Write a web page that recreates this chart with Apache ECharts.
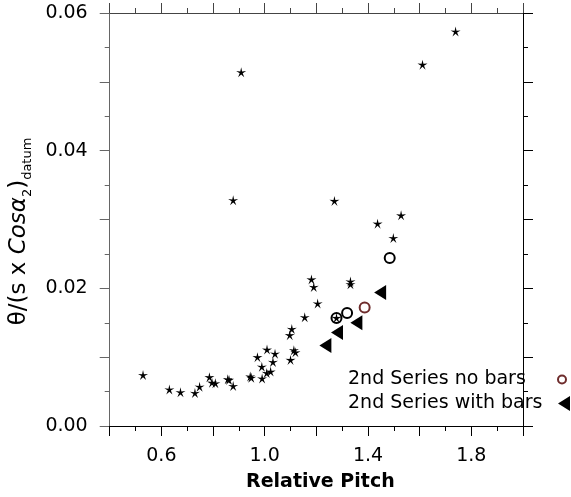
<!DOCTYPE html>
<html>
<head>
<meta charset="utf-8">
<script src="https://cdn.jsdelivr.net/npm/echarts@6/dist/echarts.min.js"></script>
<style>html,body{margin:0;padding:0;background:#fff;}#c{width:571px;height:497px;}</style>
</head>
<body>
<div id="c"></div>
<script>
// ---- data ----
const starX = [0.529,0.631,0.674,0.730,0.748,0.786,0.796,0.809,0.857,0.862,0.878,0.944,0.948,0.972,0.989,0.990,1.009,1.008,1.023,1.032,1.040,1.097,1.105,1.100,1.113,1.119,1.155,1.181,1.190,1.205,1.278,1.332,1.332,0.878,0.909,1.270,1.437,1.528,1.498,1.611,1.739];
const starY = [0.0074,0.0053,0.0049,0.0048,0.0057,0.0071,0.0063,0.0062,0.0068,0.0067,0.0058,0.0072,0.0070,0.0100,0.0086,0.0069,0.0111,0.0077,0.0079,0.0093,0.0105,0.0132,0.0141,0.0096,0.0110,0.0107,0.0158,0.0213,0.0202,0.0178,0.0157,0.0210,0.0206,0.0328,0.0514,0.0327,0.0294,0.0306,0.0273,0.0525,0.0573];
const circleX = [1.278,1.319,1.484];
const circleY = [0.0157,0.0164,0.0244];
const noBarsX = [1.387];
const noBarsY = [0.0172];
const withBarsX = [1.235,1.280,1.355,1.447];
const withBarsY = [0.0117,0.0136,0.0150,0.0194];
const xTickLabels = ['0.6','1.0','1.4','1.8'];
const yTickLabels = ['0.00','0.02','0.04','0.06'];
const seriesNames = ['2nd Series no bars','2nd Series with bars'];

const zip = (xs, ys) => xs.map((x, i) => [x, ys[i]]);
const FONT = '"DejaVu Sans", sans-serif';
const STAR = 'path://M50,0 L58.8,37.9 L97.55,34.55 L64.3,54.6 L79.39,90.45 L50,65 L20.61,90.45 L35.7,54.6 L2.45,34.55 L41.2,37.9 Z';
const TRI = 'path://M0,7.5 L12,0 L12,15 Z';
const BROWN = '#6e2c2c';

const chart = echarts.init(document.getElementById('c'), null, {renderer: 'canvas'});
const axisBase = (color) => ({
  axisLine: {show: true, onZero: false, lineStyle: {color: color, width: 1}},
  axisTick: {show: true, inside: false, length: 10, lineStyle: {color: color, width: 1}},
  minorTick: {show: true, splitNumber: 2, length: 5, lineStyle: {color: color, width: 1}},
  splitLine: {show: false},
  minorSplitLine: {show: false}
});
const legendText = {
  fontFamily: FONT, fontSize: 19, color: '#000',
  rich: {a: {fontFamily: FONT, fontSize: 19, color: '#000', width: 205, align: 'left', lineHeight: 20}}
};

chart.setOption({
  animation: false,
  backgroundColor: '#fff',
  grid: {left: 108, right: 48, top: 13, bottom: 70},
  xAxis: [
    Object.assign({
      type: 'value', position: 'bottom', min: 0.4, max: 2.0, interval: 0.2,
      name: 'Relative Pitch', nameLocation: 'middle', nameGap: 47,
      nameTextStyle: {fontFamily: FONT, fontSize: 19, fontWeight: 'bold', color: '#000', padding: [0, 0, 0, 8]},
      axisLabel: {
        margin: 21, fontFamily: FONT, fontSize: 19, color: '#000',
        formatter: v => { const s = v.toFixed(1); return xTickLabels.indexOf(s) >= 0 ? s : ''; }
      }
    }, axisBase('#000')),
    Object.assign({
      type: 'value', position: 'top', min: 0.4, max: 2.0, interval: 0.2,
      axisLabel: {show: false}
    }, axisBase('#444'))
  ],
  yAxis: [
    Object.assign({
      type: 'value', position: 'left', min: 0, max: 0.06, interval: 0.01,
      name: '{m|θ/(s x }{i|Cosα}{s|2}{m|)}{s|datum}',
      nameLocation: 'middle', nameGap: 68, nameRotate: 90,
      nameTextStyle: {
        fontFamily: FONT, fontSize: 23, color: '#000', padding: [0, 24, 0, 0],
        rich: {
          m: {fontFamily: FONT, fontSize: 23, lineHeight: 30, color: '#000'},
          i: {fontFamily: FONT, fontSize: 23, lineHeight: 30, fontStyle: 'italic', color: '#000'},
          s: {fontFamily: FONT, fontSize: 13, lineHeight: 14, verticalAlign: 'bottom', color: '#000'}
        }
      },
      axisLabel: {
        margin: 22, fontFamily: FONT, fontSize: 19, color: '#000',
        formatter: v => { const s = v.toFixed(2); return yTickLabels.indexOf(s) >= 0 ? s : ''; }
      }
    }, axisBase('#666')),
    Object.assign({
      type: 'value', position: 'right', min: 0, max: 0.06, interval: 0.01,
      axisLabel: {show: false}
    }, axisBase('#000'))
  ],
  legend: [
    {
      data: [{name: seriesNames[0], icon: 'circle'}],
      orient: 'vertical', left: 348, top: 370, align: 'right', padding: 0,
      itemWidth: 8, itemHeight: 8, itemGap: 0,
      formatter: n => '{a|' + n + '}',
      textStyle: legendText
    },
    {
      data: [{name: seriesNames[1], icon: TRI}],
      orient: 'vertical', left: 348, top: 394, align: 'right', padding: 0,
      itemWidth: 12, itemHeight: 15, itemGap: 0,
      formatter: n => '{a|' + n + '}',
      textStyle: legendText
    }
  ],
  series: [
    {
      name: 'stars', type: 'scatter', xAxisIndex: 0, yAxisIndex: 0,
      symbol: STAR, symbolSize: 10,
      itemStyle: {color: '#000', opacity: 1},
      data: zip(starX, starY)
    },
    {
      name: 'circles', type: 'scatter', xAxisIndex: 0, yAxisIndex: 0,
      symbol: 'circle', symbolSize: 10,
      itemStyle: {color: 'rgba(0,0,0,0)', borderColor: '#000', borderWidth: 2, opacity: 1},
      data: zip(circleX, circleY)
    },
    {
      name: seriesNames[0], type: 'scatter', xAxisIndex: 0, yAxisIndex: 0,
      symbol: 'circle', symbolSize: 10,
      itemStyle: {color: 'rgba(0,0,0,0)', borderColor: BROWN, borderWidth: 2, opacity: 1},
      data: zip(noBarsX, noBarsY)
    },
    {
      name: seriesNames[1], type: 'scatter', xAxisIndex: 0, yAxisIndex: 0,
      symbol: TRI, symbolSize: [12, 15],
      itemStyle: {color: '#000', opacity: 1},
      data: zip(withBarsX, withBarsY)
    }
  ]
});
</script>
</body>
</html>
